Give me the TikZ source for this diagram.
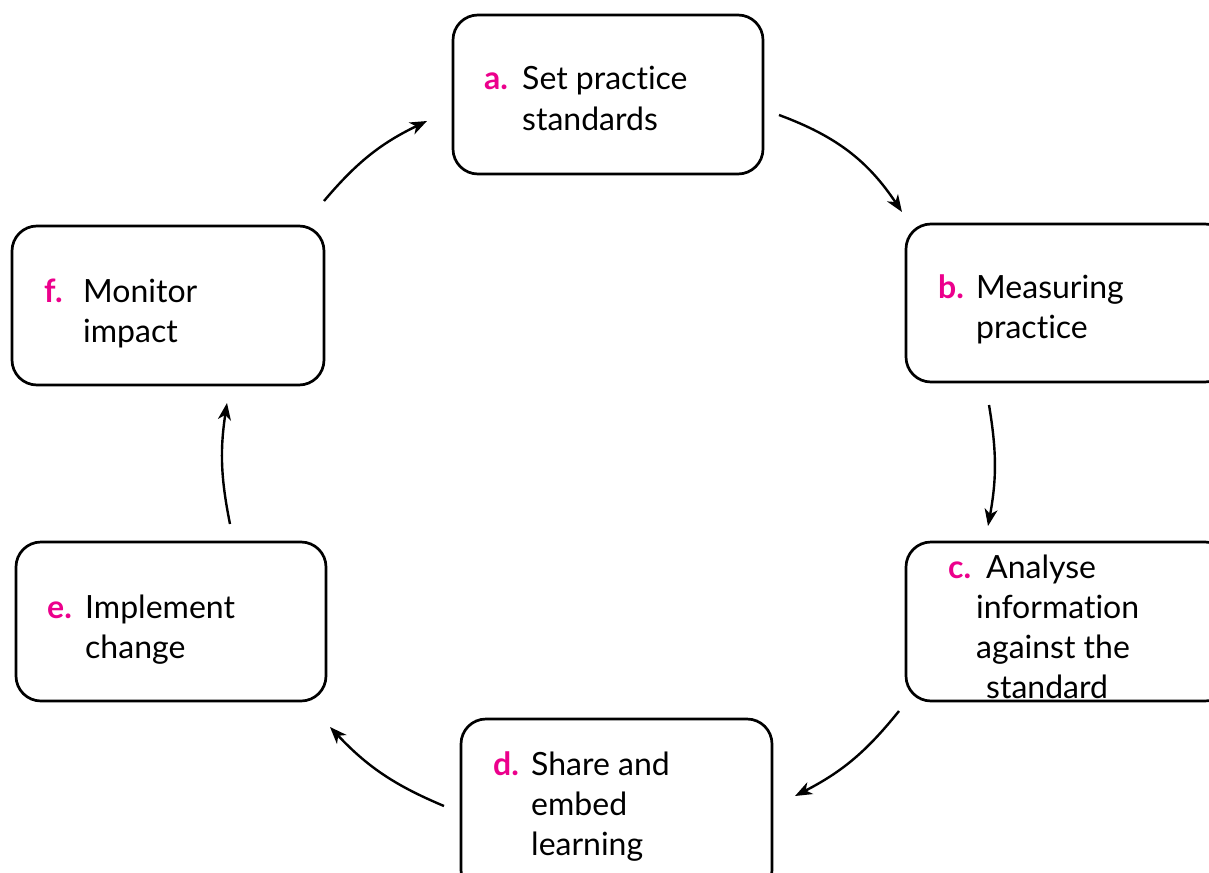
\documentclass[tikz,border=0pt]{standalone}
\usepackage{fontspec}
\setmainfont{Lato}[Ligatures={NoCommon,NoRequired,NoContextual}]
\usetikzlibrary{arrows.meta,calc}
\definecolor{lblmag}{HTML}{EC008C}
\begin{document}
\begin{tikzpicture}[x=1pt,y=-1pt,
  stagebox/.style={draw=black,line width=2.7pt,rounded corners=25pt,fill=white,inner sep=0pt,rectangle},
  txt/.style={anchor=base west,inner sep=0pt,font=\fontsize{32}{40}\selectfont,text=black},
  lbl/.style={anchor=base west,inner sep=0pt,font=\fontsize{32}{40}\selectfont\bfseries,text=lblmag},
  cyc/.style={line width=2.4pt,-{Stealth[length=17pt,width=13pt,inset=5pt]}}]
\useasboundingbox (0,0) rectangle (1209,872);
\clip (0,0) rectangle (1209,872);
\fill[white] (0,0) rectangle (1209,872);
% boxes
\node[stagebox,minimum width=310pt,minimum height=159pt] (a) at (608,94.5) {};
\node[stagebox,minimum width=324pt,minimum height=158pt] (b) at (1068,303) {};
\node[stagebox,minimum width=324pt,minimum height=159pt] (c) at (1068,621.5) {};
\node[stagebox,minimum width=311pt,minimum height=176pt] (d) at (616.5,807) {};
\node[stagebox,minimum width=310pt,minimum height=159pt] (e) at (171,621.5) {};
\node[stagebox,minimum width=312pt,minimum height=159pt] (f) at (168,305.5) {};
% texts
\node[lbl] (la) at (484,90) {a.};
\node[txt] (ta1) at (522,90) {Set practice};
\node[txt] (ta2) at (522,130) {standards};
\node[lbl] (lb) at (938,298) {b.};
\node[txt] (tb1) at (976,298) {Measuring};
\node[txt] (tb2) at (976,338) {practice};
\node[lbl] (lc) at (948,578) {c.};
\node[txt] (tc1) at (986,578) {Analyse};
\node[txt] (tc2) at (976,618) {information};
\node[txt] (tc3) at (976,658) {against the};
\node[txt] (tc4) at (986,698) {standard};
\node[lbl] (ld) at (493,775) {d.};
\node[txt] (td1) at (531,775) {Share and};
\node[txt] (td2) at (531,815) {embed};
\node[txt] (td3) at (531,855) {learning};
\node[lbl] (le) at (47,618) {e.};
\node[txt] (te1) at (85,618) {Implement};
\node[txt] (te2) at (85,658) {change};
\node[lbl] (lf) at (44,302) {f.};
\node[txt] (tf1) at (83,302) {Monitor};
\node[txt] (tf2) at (83,342) {impact};
% arrow end points
\coordinate (ab1) at (779,115);
\coordinate (ab2) at (902,212);
\coordinate (bc1) at (989,405);
\coordinate (bc2) at (988,526);
\coordinate (cd1) at (899,711);
\coordinate (cd2) at (795,796);
\coordinate (de1) at (444,806);
\coordinate (de2) at (330,727);
\coordinate (ef1) at (230,524);
\coordinate (ef2) at (227,403);
\coordinate (fa1) at (324,201);
\coordinate (fa2) at (427,121);
\draw[cyc] (ab1) to[bend left=18] (ab2);
\draw[cyc] (bc1) to[bend left=10] (bc2);
\draw[cyc] (cd1) to[bend left=12] (cd2);
\draw[cyc] (de1) to[bend left=12] (de2);
\draw[cyc] (ef1) to[bend left=10] (ef2);
\draw[cyc] (fa1) to[bend left=12] (fa2);
\end{tikzpicture}
\end{document}
